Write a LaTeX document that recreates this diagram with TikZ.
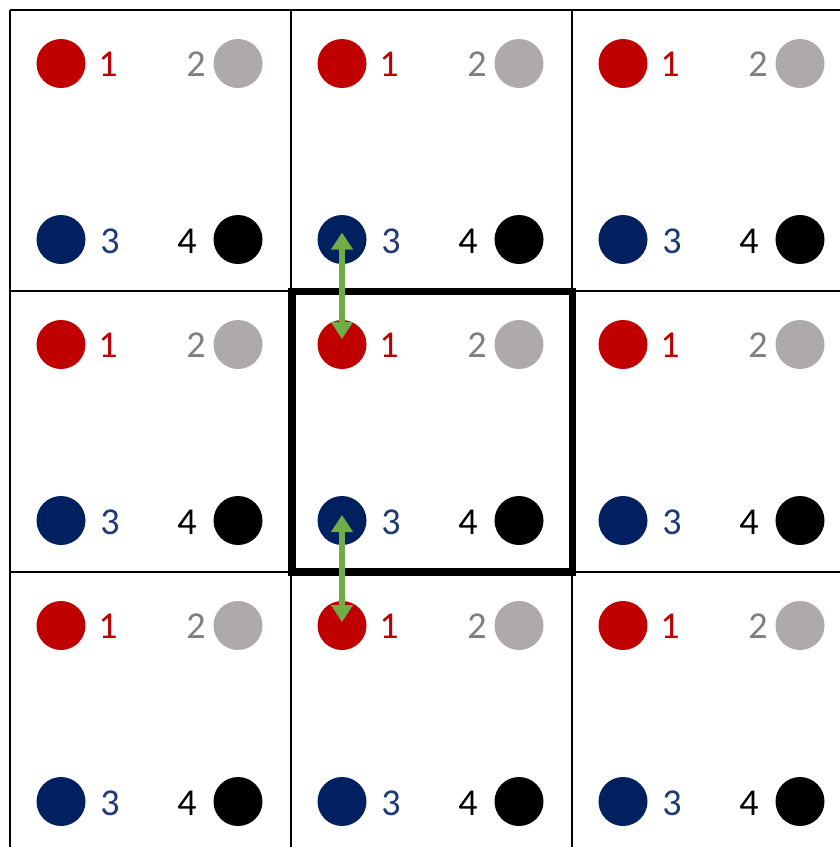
\documentclass[tikz,border=0pt]{standalone}
\usepackage{fontspec}
\setmainfont{Carlito}
\usetikzlibrary{arrows.meta}
\definecolor{cred}{HTML}{C00000}
\definecolor{cgray}{HTML}{AEAAAA}
\definecolor{cgraytxt}{HTML}{7F7F7F}
\definecolor{cblue}{HTML}{002060}
\definecolor{cbluetxt}{HTML}{1F3A78}
\definecolor{cgreen}{HTML}{70AD47}
\tikzset{
  dot/.style={circle, inner sep=0pt, minimum size=49pt, draw=none},
  lbl/.style={inner sep=0pt, font=\fontsize{38}{40}\selectfont},
  gridline/.style={line width=2pt, black},
  bigbox/.style={line width=7.5pt, black},
  arr/.style={line width=5.5pt, cgreen, {Triangle[length=17pt,width=21pt]}-{Triangle[length=17pt,width=21pt]}}
}
\begin{document}
\begin{tikzpicture}[x=1pt,y=-1pt]
\useasboundingbox (0,0) rectangle (840,847);
\fill[white] (0,0) rectangle (840,847);
% grid lines
\foreach \k in {0,1,2} {
  \draw[gridline] (9.5,{10+281*\k}) -- (840,{10+281*\k});
  \draw[gridline] ({9.5+281*\k},10) -- ({9.5+281*\k},847);
}
% cells
\foreach \i in {0,1,2} {
  \foreach \j in {0,1,2} {
    \pgfmathsetmacro{\cx}{9.5+281*\i}
    \pgfmathsetmacro{\cy}{10+281*\j}
    \node[dot, fill=cred]  (r\i\j) at (\cx+51.5,\cy+53.5) {};
    \node[dot, fill=cgray] (g\i\j) at (\cx+228.5,\cy+53.5) {};
    \node[dot, fill=cblue] (b\i\j) at (\cx+51.5,\cy+229.5) {};
    \node[dot, fill=black] (k\i\j) at (\cx+228.5,\cy+229.5) {};
    \node[lbl, text=cred]     (l1\i\j) at (\cx+98.5,\cy+54) {1};
    \node[lbl, text=cgraytxt] (l2\i\j) at (\cx+186.5,\cy+54) {2};
    \node[lbl, text=cbluetxt] (l3\i\j) at (\cx+100.5,\cy+231.5) {3};
    \node[lbl, text=black]    (l4\i\j) at (\cx+177.5,\cy+231.5) {4};
  }
}
% central thick box
\draw[bigbox] (292,291.5) rectangle (572.5,572);
% arrows
\draw[arr] ([yshift=7pt]b10.center) -- ([yshift=5.5pt]r11.center);
\draw[arr] ([yshift=5.5pt]b11.center) -- ([yshift=3.5pt]r12.center);
\end{tikzpicture}
\end{document}
